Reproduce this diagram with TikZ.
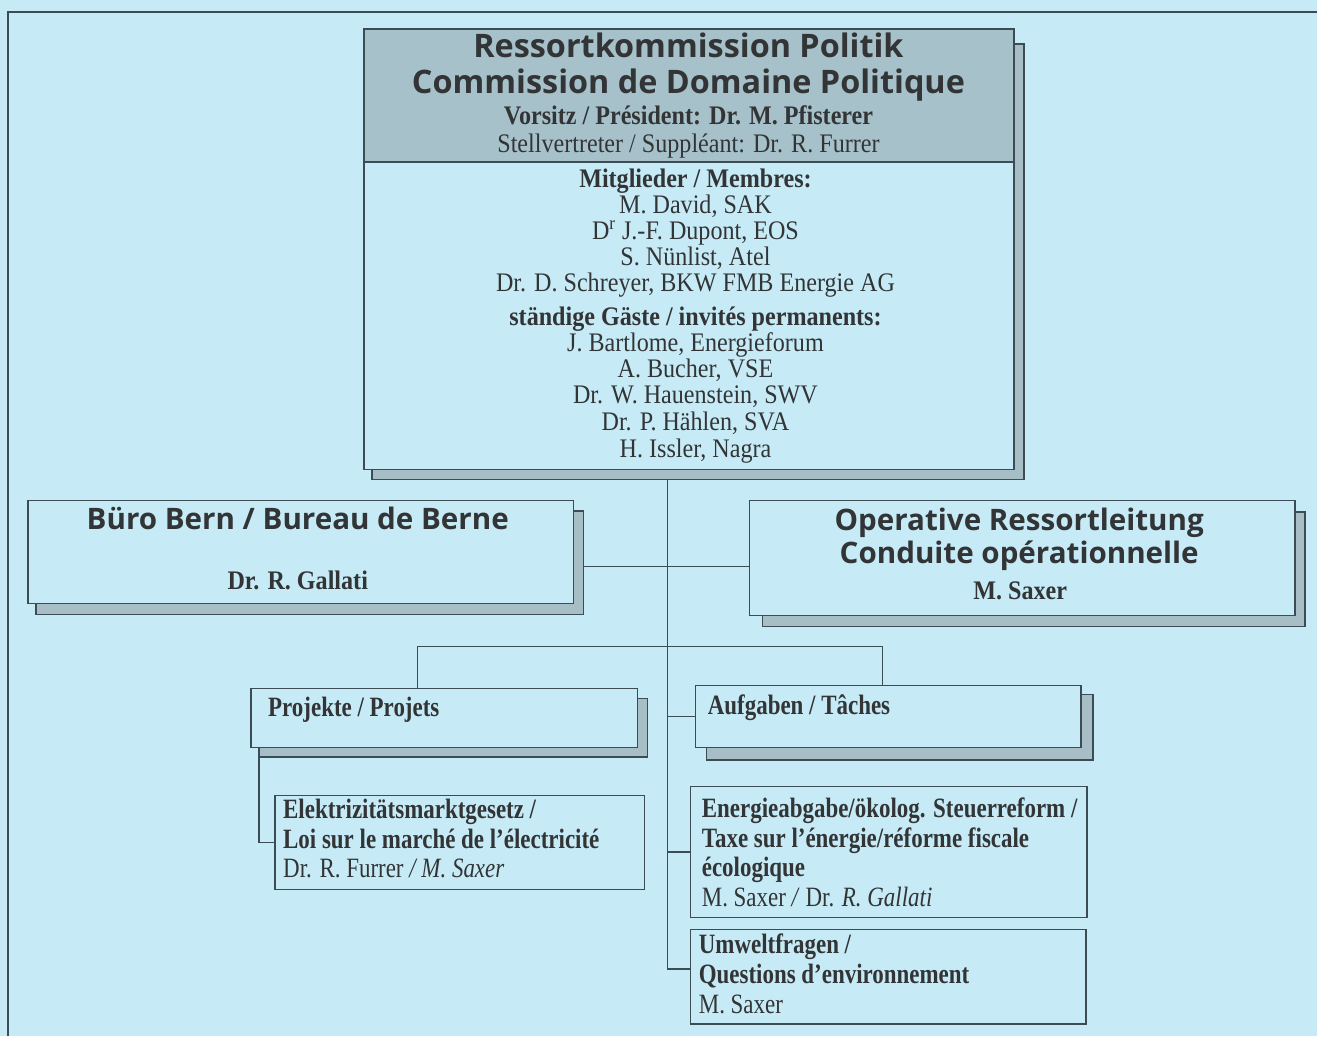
\documentclass[tikz,border=0pt]{standalone}
\usepackage{fontspec}
\setmainfont{Liberation Serif}[FakeStretch=0.82]
\newfontfamily\topfont{Liberation Serif}[FakeStretch=0.9]
\newfontfamily\titlefont{Open Sans}
\usetikzlibrary{fit}
\definecolor{bgc}{RGB}{198,235,246}
\definecolor{headc}{RGB}{166,193,202}
\definecolor{shadec}{RGB}{168,190,198}
\definecolor{linec}{RGB}{60,76,84}
\definecolor{txtc}{RGB}{50,52,54}
\pgfdeclarelayer{back}
\pgfdeclarelayer{lines}
\pgfdeclarelayer{shade}
\pgfsetlayers{back,lines,shade,main}
\tikzset{
  box/.style={draw=linec, line width=0.8pt, fill=bgc, inner sep=0pt},
  headbox/.style={box, fill=headc},
  shadowbox/.style={draw=linec, line width=0.8pt, fill=shadec},
  conn/.style={draw=linec, line width=0.8pt},
  ttl/.style={font=\titlefont\bfseries\fontsize{16.2}{18}\selectfont, text=txtc, inner sep=0pt, anchor=base},
  ttls/.style={ttl, font=\titlefont\bfseries\fontsize{14.8}{18}\selectfont},
  ctext/.style={font=\topfont\fontsize{13.4}{13}\selectfont, text=txtc, inner sep=0pt, anchor=base, text height=9pt, text depth=2.5pt},
  cbold/.style={ctext, font=\topfont\bfseries\fontsize{13.4}{13}\selectfont},
  ltext/.style={font=\fontsize{14}{15}\selectfont, text=txtc, inner sep=0pt, anchor=base west, text height=10pt, text depth=3pt},
  lbold/.style={ltext, font=\bfseries\fontsize{14}{15}\selectfont},
}
\begin{document}
\begin{tikzpicture}[x=0.5pt,y=-0.5pt]
\begin{pgfonlayer}{back}
\fill[bgc] (0,0) rectangle (1318,1037);
\draw[linec, line width=1pt] (8,1037) -- (8,12) -- (1318,12);
\end{pgfonlayer}
\useasboundingbox (0,0) rectangle (1318,1037);

% boxes
\node[headbox, fit={(364,29)(1015,162)}] (head) {};
\node[box, fit={(364,162)(1015,470)}] (members) {};
\node[box, fit={(28,501)(574,604)}] (buero) {};
\node[box, fit={(750,501)(1296,616)}] (operative) {};
\node[box, fit={(251,689)(638,748)}] (projekte) {};
\node[box, fit={(696,686)(1082,748)}] (aufgaben) {};
\node[box, fit={(275,796)(645,890)}] (elektriz) {};
\node[box, fit={(691,787)(1088,918)}] (energie) {};
\node[box, fit={(691,930)(1087,1025)}] (umwelt) {};

% shadows
\begin{pgfonlayer}{shade}
\draw[shadowbox] ([xshift=4.5pt,yshift=-8pt]head.north west) rectangle ([xshift=4.5pt,yshift=-4.5pt]members.south east);
\draw[shadowbox] ([xshift=4.5pt,yshift=-5.5pt]buero.north west) rectangle ([xshift=4.5pt,yshift=-5pt]buero.south east);
\draw[shadowbox] ([xshift=7pt,yshift=-6pt]operative.north west) rectangle ([xshift=4.5pt,yshift=-5pt]operative.south east);
\draw[shadowbox] ([xshift=4.5pt,yshift=-5.5pt]projekte.north west) rectangle ([xshift=4.5pt,yshift=-4.5pt]projekte.south east);
\draw[shadowbox] ([xshift=6pt,yshift=-5pt]aufgaben.north west) rectangle ([xshift=5.5pt,yshift=-6pt]aufgaben.south east);
\end{pgfonlayer}

% connectors
\coordinate (sp) at (668,970);
\coordinate (h1) at (668,567);
\coordinate (h2l) at (418,647);
\coordinate (h2r) at (883,647);
\coordinate (pj) at (259,843);
\begin{pgfonlayer}{lines}
\draw[conn] (members.south -| sp) -- (sp) -- (umwelt.west |- sp);
\draw[conn] (buero.east |- h1) -- (operative.west |- h1);
\draw[conn] (projekte.north -| h2l) -- (h2l) -- (h2r) -- (aufgaben.north -| h2r);
\draw[conn] (aufgaben.west -| sp) -- (aufgaben.west);
\draw[conn] (energie.west -| sp) -- (energie.west);
\draw[conn] (projekte.south -| pj) -- (pj) -- (elektriz.west |- pj);
\end{pgfonlayer}

% header texts
\node[ttl] (t1) at (689,58) {Ressortkommission Politik};
\node[ttl] (t2) at (689,94) {Commission de Domaine Politique};
\node[cbold] (t3) at (689,125) {Vorsitz / Président: Dr. M. Pfisterer};
\node[ctext] (t4) at (689,153) {Stellvertreter / Suppléant: Dr. R. Furrer};
% members
\node[cbold] (m0) at (696,188) {Mitglieder / Membres:};
\node[ctext] (m1) at (696,214) {M. David, SAK};
\node[ctext] (m2) at (696,240) {D\textsuperscript{r} J.-F. Dupont, EOS};
\node[ctext] (m3) at (696,266) {S. Nünlist, Atel};
\node[ctext] (m4) at (696,292) {Dr. D. Schreyer, BKW FMB Energie AG};
\node[cbold] (g0) at (696,326) {ständige Gäste / invités permanents:};
\node[ctext] (g1) at (696,352) {J. Bartlome, Energieforum};
\node[ctext] (g2) at (696,378) {A. Bucher, VSE};
\node[ctext] (g3) at (696,404) {Dr. W. Hauenstein, SWV};
\node[ctext] (g4) at (696,431) {Dr. P. Hählen, SVA};
\node[ctext] (g5) at (696,458) {H. Issler, Nagra};
% Buero
\node[ttls] (b1) at (298,530) {Büro Bern / Bureau de Berne};
\node[cbold] (b2) at (298,590) {Dr. R. Gallati};
% Operative
\node[ttls] (o1) at (1020,531) {Operative Ressortleitung};
\node[ttls] (o2) at (1020,564) {Conduite opérationnelle};
\node[cbold] (o3) at (1021,600) {M. Saxer};
% Projekte / Aufgaben
\node[lbold] (p1) at (268,717) {Projekte / Projets};
\node[lbold] (a1) at (708,715) {Aufgaben / Tâches};
% Elektriz
\node[lbold] (e1) at (283,819) {Elektrizitätsmarktgesetz /};
\node[lbold] (e2) at (283,849) {Loi sur le marché de l’électricité};
\node[ltext] (e3) at (283,878) {Dr. R. Furrer \textit{/ M. Saxer}};
% Energie
\node[lbold] (n1) at (702,818) {Energieabgabe/ökolog. Steuerreform /};
\node[lbold] (n2) at (702,848) {Taxe sur l’énergie/réforme fiscale};
\node[lbold] (n3) at (702,877) {écologique};
\node[ltext] (n4) at (702,907) {M. Saxer \textit{/} Dr. \textit{R. Gallati}};
% Umwelt
\node[lbold] (u1) at (699,954) {Umweltfragen /};
\node[lbold] (u2) at (699,984) {Questions d’environnement};
\node[ltext] (u3) at (699,1014) {M. Saxer};
\end{tikzpicture}
\end{document}
